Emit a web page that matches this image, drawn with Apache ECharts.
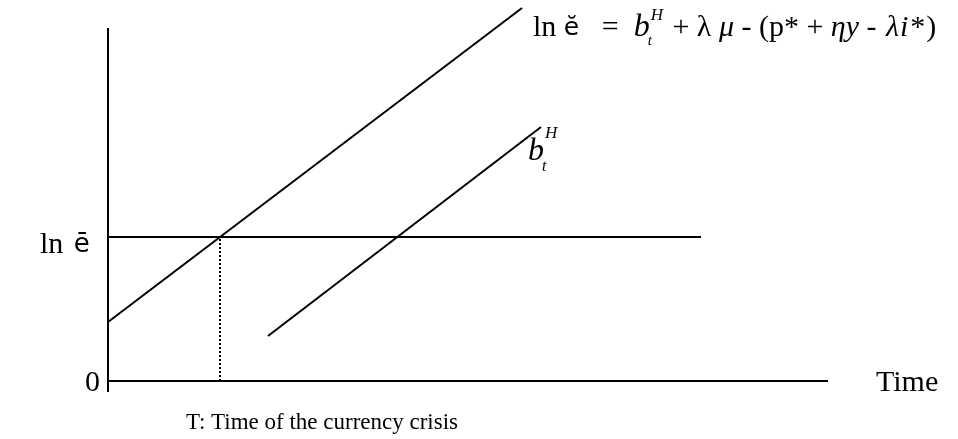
<!DOCTYPE html>
<html>
<head>
<meta charset="utf-8">
<script src="https://cdn.jsdelivr.net/npm/echarts@6/dist/echarts.min.js"></script>
<style>
  html, body { margin: 0; padding: 0; background: #ffffff; }
  #chart { width: 958px; height: 439px; }
</style>
</head>
<body>
<div id="chart"></div>
<script>
// Plot frame: time on the horizontal axis, log exchange-rate level on the vertical axis
const xRange = [0, 72];
const yRange = [-1.1, 38.1];
const yAxisLine = [[0, -1.1], [0, 35.3]];
const timeAxisLine = [[0, 0], [72, 0]];

// Fixed peg level ln ē
const pegLevel = [[0, 14.4], [59.3, 14.4]];

// Shadow exchange rate path and the fundamentals path b_t^H
const shadowRate = [[0, 5.9], [41.4, 37.3]];
const fundamentals = [[16, 4.5], [43.3, 25.4]];

// Crisis time T, where the shadow rate reaches the peg
const crisisMarker = [[11.2, 0], [11.2, 14.4]];

// Text
const originLabel = '0';
const timeLabel = 'Time';
const crisisLabel = 'T: Time of the currency crisis';

const SERIF = '"Liberation Serif", "Times New Roman", serif';
const SANS = '"DejaVu Sans", sans-serif';
const BASE = 30;
const SMALL = 17;

const chart = echarts.init(document.getElementById('chart'), null, { renderer: 'canvas' });

function lineSeries(data, extra) {
  return Object.assign({
    type: 'line',
    data: data,
    symbol: 'none',
    silent: true,
    animation: false,
    lineStyle: { color: '#000', width: 2 }
  }, extra || {});
}

chart.setOption({
  backgroundColor: '#ffffff',
  animation: false,
  grid: { left: 108, right: 130, top: 0, bottom: 47 },
  xAxis: { type: 'value', min: xRange[0], max: xRange[1], show: false },
  yAxis: { type: 'value', min: yRange[0], max: yRange[1], show: false },
  series: [
    lineSeries(yAxisLine),
    lineSeries(timeAxisLine),
    lineSeries(pegLevel),
    lineSeries(shadowRate),
    lineSeries(fundamentals),
    lineSeries(crisisMarker, { lineStyle: { color: '#000', width: 2, type: [2, 2] } })
  ]
});

// Text width measurement for laying out the formula pieces
const measureCtx = document.createElement('canvas').getContext('2d');
function textWidth(str, size, family, italic) {
  measureCtx.font = (italic ? 'italic ' : '') + size + 'px ' + family;
  return measureCtx.measureText(str).width;
}
function textEl(str, x, y, size, family, italic, align) {
  return {
    type: 'text',
    x: x, y: y,
    silent: true,
    style: {
      text: str,
      fill: '#000',
      font: (italic ? 'italic ' : '') + size + 'px ' + family,
      textAlign: align || 'left',
      textVerticalAlign: 'middle'
    }
  };
}

// Formula for the shadow exchange rate, written piece by piece:
// [text, family, italic, size, extra gap after]
function formulaElements(x0, y0) {
  const els = [];
  let x = x0;
  const run = [
    ['ln ', SERIF, false],
    ['ĕ', SANS, false, BASE - 5],
    ['   =  ', SERIF, false],
    ['b', SERIF, true, BASE + 2],
    ['SUBSUP'],
    [' + λ ', SERIF, false],
    ['μ', SERIF, true],
    [' - (p* + ', SERIF, false],
    ['ηy', SERIF, true],
    [' - ', SERIF, false, BASE, 2],
    ['λ', SERIF, true, BASE, 1],
    ['i', SERIF, true, BASE, 2],
    ['*', SERIF, false, BASE, 1],
    [')', SERIF, false]
  ];
  run.forEach(function (p) {
    if (p[0] === 'SUBSUP') {
      els.push(textEl('t', x - 2, y0 + 13, SMALL - 2, SERIF, true));
      els.push(textEl('H', x + 1, y0 - 12, SMALL, SERIF, true));
      x += textWidth('H', SMALL, SERIF, true) + 3;
      return;
    }
    const size = p[3] || BASE;
    els.push(textEl(p[0], x, y0, size, p[1], p[2]));
    x += textWidth(p[0], size, p[1], p[2]) + (p[4] || 0);
  });
  return els;
}

function bLabel(x0, y0) {
  const wb = textWidth('b', BASE + 2, SERIF, true);
  return [
    textEl('b', x0, y0, BASE + 2, SERIF, true),
    textEl('t', x0 + wb - 2, y0 + 15, SMALL - 1, SERIF, true),
    textEl('H', x0 + wb + 1, y0 - 18, SMALL, SERIF, true)
  ];
}

function placeLabels() {
  const shadowEnd = chart.convertToPixel({ gridIndex: 0 }, shadowRate[1]);
  const fundEnd = chart.convertToPixel({ gridIndex: 0 }, fundamentals[1]);
  const peg = chart.convertToPixel({ gridIndex: 0 }, pegLevel[0]);
  const origin = chart.convertToPixel({ gridIndex: 0 }, timeAxisLine[0]);
  const timeEnd = chart.convertToPixel({ gridIndex: 0 }, timeAxisLine[1]);
  const crisis = chart.convertToPixel({ gridIndex: 0 }, crisisMarker[0]);

  const lnW = textWidth('ln ', BASE, SERIF, false);
  const els = []
    .concat(formulaElements(shadowEnd[0] + 11, shadowEnd[1] + 20))
    .concat(bLabel(fundEnd[0] - 13, fundEnd[1] + 25))
    .concat([
      textEl('ln', peg[0] - 68, peg[1] + 8, BASE, SERIF, false),
      textEl('ē', peg[0] - 68 + lnW + 3, peg[1] + 8, BASE - 4, SANS, false),
      textEl(originLabel, origin[0] - 8, origin[1] + 2, BASE, SERIF, false, 'right'),
      textEl(timeLabel, timeEnd[0] + 48, timeEnd[1] + 2, BASE, SERIF, false),
      textEl(crisisLabel, crisis[0] - 34, crisis[1] + 42, 23, SERIF, false)
    ]);
  chart.setOption({ graphic: { elements: els } });
}
placeLabels();
</script>
</body>
</html>
